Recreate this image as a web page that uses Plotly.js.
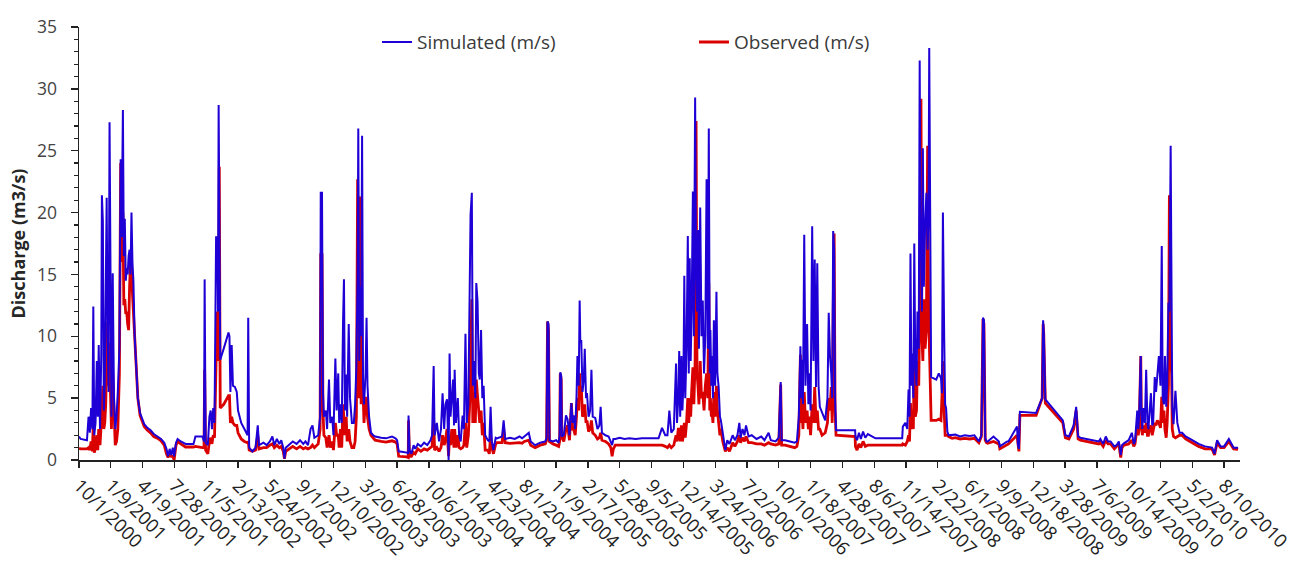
<!DOCTYPE html>
<html>
<head>
<meta charset="utf-8">
<script src="https://cdn.plot.ly/plotly-3.0.1.min.js"></script>
<style>html,body{margin:0;padding:0;background:#fff}#chart{width:1296px;height:563px}</style>
</head>
<body>
<div id="chart"></div>
<script>
// Day index = days since 10/1/2000 (start of record)
const dayIndex = [0,5,25,30,34,38,42,45,48,52,56,59,62,66,70,72,75,78,81,84,87,90,93,96,99,102,106,110,114,118,122,127,131,134,138,141,144,147,150,153,156,159,162,165,168,171,175,179,185,192,205,215,225,235,248,258,268,275,280,285,290,295,299,305,310,320,335,360,366,388,393,395,398,405,410,414,418,422,426,431,435,437,439,441,444,455,470,473,476,480,484,490,496,500,510,520,526,530,532,535,545,555,562,566,580,590,600,608,614,622,630,636,642,646,650,660,672,684,695,705,712,720,728,734,740,752,758,760,764,767,770,776,780,786,790,796,800,806,810,815,818,822,826,830,833,836,840,843,848,852,858,864,868,872,876,878,881,884,887,890,893,896,901,904,907,912,918,925,
931,950,965,984,995,1000,1005,1031,1035,1036,1039,1045,1052,1057,1065,1075,1085,1095,1105,1110,1115,1118,1125,1132,1138,1143,1148,1152,1157,1160,1162,1165,1168,1172,1176,1179,1181,1185,1191,1195,1200,1206,1210,1215,1219,1224,1229,1231,1235,1238,1242,1246,1249,1253,1257,1260,1264,1268,1272,1277,1285,1290,1294,1298,1303,1310,1314,1330,1335,1340,1355,1370,1385,1393,1400,1414,1420,1434,1450,1466,1470,1473,1476,1479,1490,1500,1508,1511,1513,1516,1518,1524,1531,1536,1542,1548,1552,1555,1560,1564,1567,1571,1574,1576,1579,1583,1587,1590,1594,1597,1602,1607,1611,1615,1623,1630,1636,1640,1644,1655,1665,1672,1676,1680,1686,1700,1715,1730,1750,1770,1790,1810,1822,1833,1843,
1850,1856,1862,1870,1877,1880,1884,1887,1890,1894,1897,1900,1903,1906,1910,1914,1917,1920,1923,1926,1930,1933,1937,1940,1943,1946,1949,1953,1957,1961,1965,1969,1973,1977,1980,1983,1985,1988,1990,1993,1996,2000,2004,2007,2011,2015,2018,2024,2032,2038,2045,2055,2062,2070,2076,2080,2086,2092,2097,2105,2115,2130,2145,2155,2168,2175,2190,2200,2206,2209,2220,2235,2250,2257,2263,2268,2271,2273,2276,2280,2284,2289,2293,2296,2300,2305,2309,2313,2317,2321,2325,2329,2336,2346,2353,2357,2361,2365,2368,2371,2374,2377,2380,2440,2441,2446,2452,2458,2465,2472,2480,2493,2504,2588,2590,2598,2604,2608,2611,2614,2617,2619,2623,2626,2629,2633,2636,2640,2643,2645,2647,2650,2653,2656,2660,2664,2668,2671,2673,2676,2679,2687,2695,2703,2710,2713,2716,2720,2723,2726,2730,2734,2745,
2755,2770,2785,2800,2815,2829,2837,2842,2845,2849,2853,2857,2875,2892,2895,2918,2922,2949,2952,2955,2958,3009,3028,3031,3033,3038,3093,3101,3112,3127,3135,3141,3148,3206,3211,3220,3228,3235,3243,3255,3262,3269,3275,3279,3285,3300,3310,3316,3320,3327,3330,3333,3338,3340,3343,3346,3351,3355,3359,3362,3365,3370,3374,3377,3382,3386,3390,3395,3400,3404,3407,3411,3414,3418,3421,3425,3428,3432,3435,3437,3441,3447,3453,3457,3460,3468,3479,3500,3520,3540,3562,3570,3578,3589,3600,3615,3630,3644,3651];

const simulated = [1.9,1.7,1.6,3.5,2.2,4.2,2.5,12.4,2.0,3.0,8.0,3.5,9.3,2.5,8.5,21.4,19.3,4.0,6.0,15.9,21.2,10.0,5.5,27.3,8.0,3.5,15.1,5.0,2.5,3.5,5.5,9.0,24.3,18.0,28.3,16.5,19.5,14.5,15.5,15.0,16.5,17.0,15.0,20.0,16.0,14.5,10.0,7.5,5.0,3.8,2.9,2.6,2.4,2.1,1.9,1.7,1.4,0.9,0.3,0.9,0.4,1.0,0.3,1.4,1.7,1.5,1.3,1.3,1.9,1.9,1.5,14.6,1.4,1.2,3.5,4.0,2.5,4.2,3.0,18.0,18.0,12.0,28.7,16.0,8.1,9.0,10.3,10.0,5.5,9.3,6.0,5.9,5.5,4.0,3.0,2.5,2.2,2.0,11.5,1.0,0.7,1.0,2.8,1.2,1.4,1.2,1.5,1.9,1.2,1.7,1.3,1.6,1.0,0.1,1.0,1.2,1.5,1.3,1.6,1.3,1.5,1.2,2.5,2.8,1.8,2.0,3.5,21.6,21.6,5.5,3.5,4.0,2.5,6.5,3.0,3.5,2.0,8.2,4.0,7.0,3.0,4.5,3.0,11.0,14.6,4.0,6.9,3.5,11.0,5.0,3.0,3.0,4.5,7.5,15.0,26.8,8.0,14.0,10.0,26.2,6.0,4.5,7.0,11.5,6.0,3.5,2.2,2.0,
1.9,1.8,1.75,1.9,1.75,1.6,0.7,0.6,0.5,3.6,0.8,0.5,1.2,0.9,1.3,1.1,1.4,1.2,1.6,2.0,7.6,2.0,3.0,1.5,2.5,5.4,2.5,4.5,4.9,2.0,0.0,8.6,3.5,5.0,6.5,2.8,7.3,3.0,5.0,2.0,1.5,3.6,2.5,10.2,3.0,4.5,14.0,19.8,21.6,6.0,8.0,5.0,14.3,12.8,7.0,6.5,10.5,5.0,6.0,2.0,1.6,1.5,4.3,1.5,0.8,1.8,1.75,1.9,3.2,1.7,1.8,1.7,1.9,1.75,1.9,2.2,1.5,1.2,1.4,1.5,1.8,11.2,11.0,1.6,1.5,1.6,1.4,2.0,7.1,6.8,1.9,2.0,3.6,3.3,2.0,4.6,3.0,3.6,2.5,5.0,8.4,6.0,12.9,9.5,9.7,5.5,6.5,9.0,5.0,5.4,3.5,4.0,7.3,3.5,3.4,2.5,2.8,4.3,2.2,2.0,1.9,1.5,1.2,1.7,1.7,1.8,1.7,1.75,1.7,1.75,1.75,1.75,1.75,2.6,2.0,
2.0,4.0,2.2,2.5,7.8,3.0,5.0,8.8,3.5,8.4,4.0,6.0,14.9,5.0,9.0,18.1,7.0,16.3,8.0,12.0,21.7,10.0,29.3,15.0,12.0,18.6,9.0,20.4,10.0,12.9,7.0,10.0,22.7,9.0,26.8,7.0,10.5,6.0,8.4,5.0,11.3,6.0,13.6,7.0,5.9,3.5,3.2,2.2,0.8,1.6,1.3,2.0,1.6,2.0,3.0,1.8,2.5,2.0,2.8,1.9,2.0,1.7,1.9,1.6,2.2,1.6,1.5,1.8,6.3,1.6,1.6,1.5,1.4,1.5,3.5,9.2,5.0,8.1,4.5,18.2,6.0,11.0,4.5,7.0,4.0,18.9,8.0,16.2,5.9,15.9,6.0,4.3,3.8,3.2,5.0,11.9,8.4,7.0,5.0,18.5,17.0,5.0,2.4,2.4,1.9,1.6,2.2,1.7,2.3,1.8,2.1,1.9,1.75,1.75,2.7,3.0,2.5,5.7,3.5,16.7,6.0,8.6,5.0,17.5,8.0,6.0,12.0,9.0,32.3,20.0,15.0,12.0,25.2,14.0,18.9,21.6,17.0,20.0,33.3,20.2,6.7,6.6,6.5,7.0,6.6,5.4,20.0,10.0,4.5,4.2,2.3,2.0,
2.0,2.05,1.9,2.0,1.95,2.0,1.5,2.0,11.5,11.3,1.8,1.5,1.5,1.9,1.5,1.1,1.5,1.5,2.7,1.2,0.9,3.9,3.8,5.0,11.3,10.4,4.9,3.2,2.0,1.9,2.8,4.3,1.9,1.8,1.5,1.7,1.3,1.9,1.5,1.5,1.1,1.2,1.5,0.4,1.2,1.35,1.6,2.2,1.3,1.5,4.0,2.5,3.5,8.4,4.0,2.5,4.2,3.0,7.3,3.0,2.5,3.5,5.4,2.8,3.0,6.7,5.5,6.8,8.4,6.0,17.3,5.0,4.5,8.4,4.3,6.0,12.7,12.0,25.4,12.7,4.3,2.9,5.6,3.0,2.4,2.2,2.2,1.9,1.6,1.3,1.1,1.0,0.5,1.6,1.1,1.1,1.7,1.0,1.0];

const observed = [0.95,0.9,0.9,1.0,0.8,1.5,0.7,3.0,0.6,1.0,2.0,0.8,2.5,1.2,3.0,5.0,6.0,2.5,3.0,4.5,8.5,11.2,6.0,9.5,5.5,2.5,7.0,3.0,1.2,1.5,2.5,7.0,24.0,16.0,20.0,12.5,13.0,11.8,12.0,11.0,10.5,14.0,16.0,15.0,13.5,12.0,9.0,7.0,5.0,3.6,2.7,2.4,2.2,1.9,1.75,1.55,1.2,0.5,0.2,0.5,0.3,0.3,0.0,1.2,1.5,1.3,1.05,1.05,1.1,1.0,1.0,7.3,0.8,0.5,1.5,1.8,1.3,2.0,1.8,8.0,12.0,8.0,10.0,23.7,4.2,4.5,5.2,5.2,3.0,3.5,3.0,2.8,2.8,2.2,1.7,1.5,1.4,1.4,1.5,0.8,0.7,0.8,2.0,0.9,1.0,1.0,1.2,1.3,1.0,1.2,1.0,1.1,0.7,0.1,0.7,0.9,1.1,0.9,1.1,0.9,1.0,0.9,1.0,1.2,1.0,1.3,2.5,16.6,16.6,4.0,2.0,1.8,1.0,2.0,1.0,1.5,0.8,3.0,2.0,2.0,1.0,2.5,1.0,4.5,3.0,2.0,3.5,1.5,2.5,1.5,1.0,1.0,1.5,3.5,22.7,14.0,5.0,21.3,4.5,8.0,4.0,3.0,5.0,5.0,3.5,2.5,2.0,1.8,
1.6,1.5,1.45,1.55,1.45,1.3,0.3,0.25,0.2,3.2,0.3,0.3,0.6,0.5,0.9,0.7,0.9,0.8,1.0,1.1,3.2,0.8,1.0,0.7,1.0,2.0,1.2,1.6,2.5,0.8,0.3,2.0,1.2,2.5,1.5,1.0,2.5,1.0,2.0,1.0,0.9,1.0,1.2,3.0,1.0,2.0,5.0,8.0,13.0,3.0,5.5,3.0,6.5,5.1,3.5,3.0,4.0,2.0,3.0,0.8,0.8,0.5,2.0,1.0,0.5,1.3,1.4,1.4,2.5,1.4,1.35,1.4,1.4,1.35,1.5,1.6,1.2,1.0,1.2,1.3,1.6,11.2,10.5,1.5,1.3,1.2,1.1,1.5,7.0,6.5,1.8,1.5,2.5,2.8,1.6,4.6,2.5,2.5,2.0,3.5,5.0,4.0,7.0,5.0,6.0,3.5,3.8,4.5,3.0,3.2,2.3,2.5,3.2,2.2,2.0,1.7,1.8,2.2,1.6,1.5,1.3,1.0,0.3,0.9,1.2,1.2,1.2,1.2,1.15,1.2,1.2,1.2,1.15,1.2,1.1,
1.0,1.2,1.0,1.2,2.0,1.5,2.5,2.5,1.5,2.8,1.5,2.0,3.0,1.8,3.0,5.0,3.0,5.0,3.5,5.5,7.5,4.5,8.0,27.4,7.0,6.0,4.5,8.0,5.0,5.5,4.0,6.0,7.0,5.0,14.3,4.0,5.0,3.5,4.0,3.0,5.5,3.5,6.0,4.0,3.0,2.0,2.5,1.5,0.7,1.0,0.7,1.4,1.1,1.5,2.0,1.4,1.8,1.5,1.9,1.4,1.4,1.3,1.3,1.2,1.4,1.3,1.2,1.3,6.1,1.2,1.2,1.1,1.0,1.1,2.0,8.5,3.0,4.0,2.5,5.5,3.0,4.0,2.5,3.5,2.0,4.5,3.0,5.9,3.0,4.0,2.5,2.5,2.0,2.2,3.0,5.0,4.0,5.9,3.0,12.0,18.3,4.0,2.0,1.9,1.1,0.8,1.3,1.0,1.5,1.1,1.2,1.2,1.2,1.2,1.3,1.2,1.5,2.0,1.5,4.6,2.5,3.0,2.5,8.5,3.5,4.0,8.0,6.0,12.0,25.0,29.2,10.0,8.0,13.0,9.0,10.5,25.4,12.0,10.0,6.0,3.2,3.2,3.2,3.3,3.2,5.1,8.0,4.0,2.0,2.0,2.0,1.9,
1.75,1.8,1.7,1.75,1.7,1.75,1.4,1.9,11.4,11.0,1.6,1.4,1.35,1.5,1.3,0.9,1.3,1.3,2.0,1.0,0.7,3.6,3.6,5.0,11.0,10.2,4.6,3.0,1.8,1.7,2.5,4.0,1.7,1.6,1.3,1.4,1.1,1.6,1.3,1.3,0.9,1.1,1.3,0.2,1.0,1.2,1.3,1.6,1.1,1.3,2.8,2.0,2.5,8.4,3.0,2.0,2.8,2.2,3.0,2.0,2.0,2.5,2.8,2.0,2.4,3.0,2.8,3.2,3.0,2.6,5.1,3.0,4.0,2.5,1.8,3.0,6.0,21.4,8.0,7.0,2.5,1.9,1.8,1.9,2.0,2.0,2.0,1.7,1.4,1.1,0.9,0.9,0.4,1.4,1.0,1.0,1.5,0.9,0.85];

const tickLabels = ["10/1/2000","1/9/2001","4/19/2001","7/28/2001","11/5/2001","2/13/2002","5/24/2002","9/1/2002","12/10/2002","3/20/2003","6/28/2003","10/6/2003","1/14/2004","4/23/2004","8/1/2004","11/9/2004","2/17/2005","5/28/2005","9/5/2005","12/14/2005","3/24/2006","7/2/2006","10/10/2006","1/18/2007","4/28/2007","8/6/2007","11/14/2007","2/22/2008","6/1/2008","9/9/2008","12/18/2008","3/28/2009","7/6/2009","10/14/2009","1/22/2010","5/2/2010","8/10/2010"];

const seriesNames = ["Simulated (m/s)", "Observed (m/s)"];
const yAxisTitle = "Discharge (m3/s)";

const base = Date.UTC(2000, 9, 1);
const dates = dayIndex.map(d => new Date(base + d * 86400000).toISOString().slice(0, 10));
const tickVals = tickLabels.map(s => { const [m, d, y] = s.split('/'); return y + '-' + m.padStart(2, '0') + '-' + d.padStart(2, '0'); });

const FONT = '"Open Sans", "Noto Sans", sans-serif';

const traces = [
  { x: dates, y: observed, type: 'scatter', mode: 'lines', name: seriesNames[1], legend: 'legend2',
    line: { color: 'rgb(218,0,0)', width: 2.8 } },
  { x: dates, y: simulated, type: 'scatter', mode: 'lines', name: seriesNames[0], legend: 'legend',
    line: { color: 'rgb(30,0,214)', width: 2 } }
];

const layout = {
  width: 1296, height: 563,
  margin: { l: 79, r: 56, t: 27, b: 103 },
  paper_bgcolor: '#fff', plot_bgcolor: '#fff',
  font: { family: FONT, color: '#333' },
  showlegend: true,
  legend: { x: 0.2567, y: 0.965, xanchor: 'left', yanchor: 'middle', orientation: 'h',
    bgcolor: 'rgba(0,0,0,0)', font: { size: 19, color: '#3a3a3a', family: FONT } },
  legend2: { x: 0.5297, y: 0.965, xanchor: 'left', yanchor: 'middle', orientation: 'h',
    bgcolor: 'rgba(0,0,0,0)', font: { size: 19, color: '#3a3a3a', family: FONT } },
  xaxis: {
    type: 'date', range: ['2000-10-01', '2010-09-29'],
    tickmode: 'array', tickvals: tickVals, ticktext: tickLabels, tickangle: 45,
    ticklabeloverflow: 'allow',
    ticks: 'outside', ticklen: 6, tickwidth: 1.3, tickcolor: '#222',
    showline: true, linecolor: '#222', linewidth: 1.5, showgrid: false, zeroline: false,
    tickfont: { size: 18.5, color: '#222', family: FONT }
  },
  yaxis: {
    range: [0, 35], tickmode: 'linear', tick0: 0, dtick: 5,
    ticks: 'outside', ticklen: 7, tickwidth: 1.3, tickcolor: '#222',
    minor: { dtick: 1, ticks: 'outside', ticklen: 4, tickwidth: 1.2, tickcolor: '#222', showgrid: false },
    showline: true, linecolor: '#222', linewidth: 1.5, showgrid: false, zeroline: false,
    tickfont: { size: 17.5, color: '#444', family: FONT },
    ticklabelstandoff: 10,
    title: { text: yAxisTitle, font: { size: 18, color: '#262626', family: FONT, weight: 'bold' }, standoff: 6 }
  }
};

Plotly.newPlot('chart', traces, layout, { staticPlot: true, displayModeBar: false });
</script>
</body>
</html>
